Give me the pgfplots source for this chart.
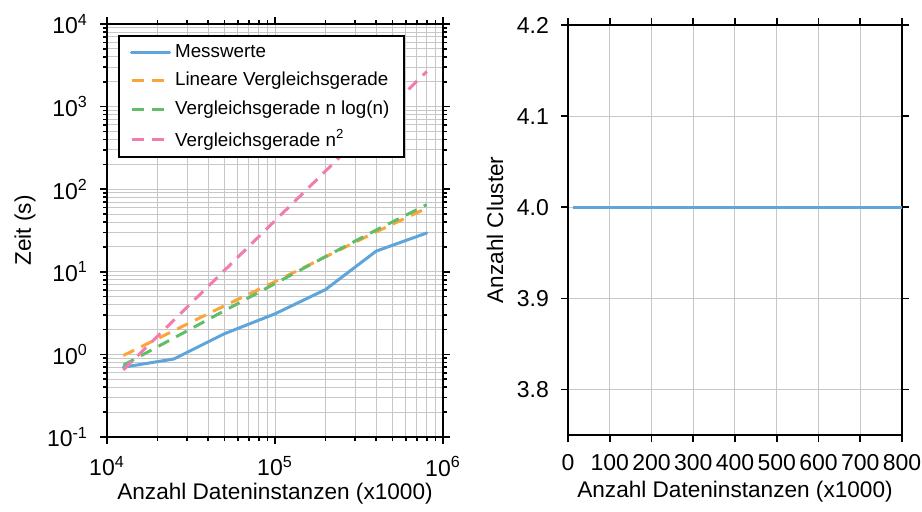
\documentclass[border=0pt]{standalone}
\usepackage{fontspec}
\setmainfont{Liberation Sans}
\usepackage{pgfplots}
\pgfplotsset{compat=1.18}
\definecolor{cblue}{HTML}{5DA5DA}
\definecolor{corange}{HTML}{FAA43A}
\definecolor{cgreen}{HTML}{60BD68}
\definecolor{cpink}{HTML}{F17CB0}
\begin{document}
\begin{tikzpicture}
\path[use as bounding box] (-53.5pt,-37pt) rectangle (407.5pt,218.5pt);
\pgfplotsset{
  every axis/.append style={
    scale only axis,
    axis line style={line width=1pt},
    tick align=outside,
    major tick length=3.5pt, minor tick length=2pt,
    every tick/.style={black, line width=0.8pt},
    grid style={line width=0.5pt, color=black!22},
    tick label style={font=\fontsize{11.5}{13}\selectfont},
    label style={font=\fontsize{11.3}{13}\selectfont},
    x tick label style={yshift=-2.5pt},
    y tick label style={xshift=-2.5pt},
  },
  dashstyle/.style={line width=1.5pt, line cap=butt, dash pattern=on 6pt off 4pt},
}
\begin{axis}[
  width=168pt, height=206.5pt,
  xmode=log, ymode=log,
  xmin=1e4, xmax=1e6, ymin=1e-1, ymax=1e4,
  grid=both,
  xtick={1e4,1e5,1e6},
  xticklabels={10\textsuperscript{4},10\textsuperscript{5},10\textsuperscript{6}},
  minor xtick={2e4,3e4,4e4,5e4,6e4,7e4,8e4,9e4,2e5,3e5,4e5,5e5,6e5,7e5,8e5,9e5},
  ytick={1e-1,1,10,100,1000,10000},
  yticklabels={10\textsuperscript{-1},10\textsuperscript{0},10\textsuperscript{1},10\textsuperscript{2},10\textsuperscript{3},10\textsuperscript{4}},
  minor ytick={0.2,0.3,0.4,0.5,0.6,0.7,0.8,0.9,2,3,4,5,6,7,8,9,20,30,40,50,60,70,80,90,200,300,400,500,600,700,800,900,2000,3000,4000,5000,6000,7000,8000,9000},
  xlabel={Anzahl Dateninstanzen (x1000)},
  ylabel={Zeit (s)},
  x label style={at={(axis description cs:0.5,-0.138)}, anchor=center},
  y label style={at={(axis description cs:-0.244,0.5)}, anchor=center},
  legend cell align=left,
  legend style={at={(rel axis cs:0.033,0.973)}, anchor=north west, draw=black, line width=1pt, fill=white,
    font=\fontsize{9.4}{11}\selectfont, row sep=2pt, inner xsep=5.5pt, inner ysep=2pt},
  legend image code/.code={\draw[#1] (0pt,0pt) -- (14.5pt,0pt); \path (0pt,0pt) -- (19pt,0pt);},
]
\addplot[cblue, line width=1.5pt, line cap=round] coordinates {
  (12500,0.70) (25000,0.88) (50000,1.78) (100000,3.1) (200000,6.1) (400000,17.8) (800000,29.5)};
\addlegendentry{Messwerte}
\addplot[corange, dashstyle] coordinates {
  (12500,0.97) (25000,1.94) (50000,3.88) (100000,7.6) (200000,15.2) (400000,30.4) (800000,59)};
\addlegendentry{Lineare Vergleichsgerade}
\addplot[cgreen, dashstyle] coordinates {
  (12500,0.74) (25000,1.58) (50000,3.38) (100000,7.2) (200000,15.3) (400000,32) (800000,65)};
\addlegendentry{Vergleichsgerade n log(n)}
\addplot[cpink, dashstyle] coordinates {
  (12500,0.65) (25000,2.6) (50000,10.4) (100000,41.6) (200000,166) (400000,666) (800000,2660)};
\addlegendentry{Vergleichsgerade n\textsuperscript{2}}
\end{axis}
\begin{axis}[
  at={(230.5pt,1pt)},
  width=167pt, height=205pt,
  xmin=0, xmax=800, ymin=3.75, ymax=4.2,
  grid=major,
  xtick={0,100,200,300,400,500,600,700,800},
  ytick={3.8,3.9,4.0,4.1,4.2},
  /pgf/number format/assume math mode=true,
  yticklabel style={/pgf/number format/.cd, fixed, fixed zerofill, precision=1},
  xlabel={Anzahl Dateninstanzen (x1000)},
  ylabel={Anzahl Cluster},
  x label style={at={(axis description cs:0.5,-0.139)}, anchor=center},
  y label style={at={(axis description cs:-0.2186,0.5)}, anchor=center},
]
\addplot[cblue, line width=1.5pt] coordinates {
  (12.5,4) (25,4) (50,4) (100,4) (200,4) (400,4) (800,4)};
\end{axis}
\end{tikzpicture}
\end{document}
